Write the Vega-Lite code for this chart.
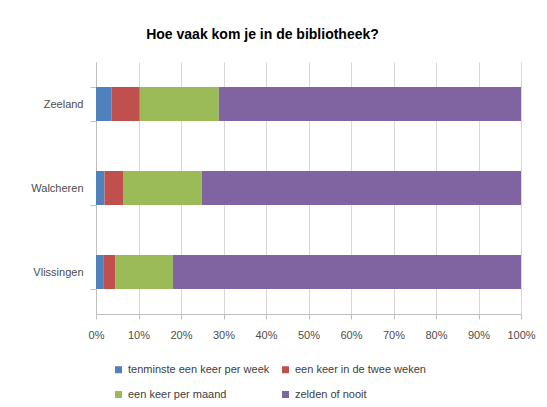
{
  "$schema": "https://vega.github.io/schema/vega-lite/v6.json",
  "autosize": {"type": "none"},
  "width": 425,
  "height": 252,
  "padding": {"left": 96, "top": 62, "right": 26, "bottom": 93},
  "background": "white",
  "title": {
    "text": "Hoe vaak kom je in de bibliotheek?",
    "font": "Liberation Sans",
    "fontSize": 14,
    "fontWeight": "bold",
    "color": "#000000",
    "anchor": "middle",
    "dx": -46,
    "offset": 14
  },
  "data": {
    "values": [
      {"regio": "Zeeland", "antwoord": "tenminste een keer per week", "volgorde": 1, "pct": 3.7},
      {"regio": "Zeeland", "antwoord": "een keer in de twee weken", "volgorde": 2, "pct": 6.6},
      {"regio": "Zeeland", "antwoord": "een keer per maand", "volgorde": 3, "pct": 18.6},
      {"regio": "Zeeland", "antwoord": "zelden of nooit", "volgorde": 4, "pct": 71.1},
      {"regio": "Walcheren", "antwoord": "tenminste een keer per week", "volgorde": 1, "pct": 2.0},
      {"regio": "Walcheren", "antwoord": "een keer in de twee weken", "volgorde": 2, "pct": 4.5},
      {"regio": "Walcheren", "antwoord": "een keer per maand", "volgorde": 3, "pct": 18.4},
      {"regio": "Walcheren", "antwoord": "zelden of nooit", "volgorde": 4, "pct": 75.1},
      {"regio": "Vlissingen", "antwoord": "tenminste een keer per week", "volgorde": 1, "pct": 1.7},
      {"regio": "Vlissingen", "antwoord": "een keer in de twee weken", "volgorde": 2, "pct": 2.8},
      {"regio": "Vlissingen", "antwoord": "een keer per maand", "volgorde": 3, "pct": 13.6},
      {"regio": "Vlissingen", "antwoord": "zelden of nooit", "volgorde": 4, "pct": 81.9}
    ]
  },
  "mark": {"type": "bar"},
  "encoding": {
    "y": {
      "field": "regio",
      "type": "nominal",
      "sort": ["Zeeland", "Walcheren", "Vlissingen"],
      "scale": {"paddingInner": 0.595, "paddingOuter": 0.2975},
      "axis": {
        "title": null,
        "domainColor": "#bfbfbf",
        "tickColor": "#bfbfbf",
        "tickSize": 6,
        "tickBand": "extent",
        "labelPadding": 7,
        "labelFont": "Liberation Sans",
        "labelFontSize": 11,
        "labelColor": "#4d4d4d",
        "grid": false
      }
    },
    "x": {
      "field": "pct",
      "type": "quantitative",
      "stack": "normalize",
      "scale": {"domain": [0, 1], "nice": false},
      "axis": {
        "title": null,
        "format": ".0%",
        "values": [0, 0.1, 0.2, 0.3, 0.4, 0.5, 0.6, 0.7, 0.8, 0.9, 1],
        "domainColor": "#bfbfbf",
        "tickColor": "#bfbfbf",
        "tickSize": 5,
        "labelPadding": 10,
        "labelFont": "Liberation Sans",
        "labelFontSize": 11,
        "labelColor": "#4d4d4d",
        "grid": true,
        "gridColor": "#d9d9d9",
        "labelFlush": false
      }
    },
    "color": {
      "field": "antwoord",
      "type": "nominal",
      "sort": ["tenminste een keer per week", "een keer in de twee weken", "een keer per maand", "zelden of nooit"],
      "scale": {
        "domain": ["tenminste een keer per week", "een keer in de twee weken", "een keer per maand", "zelden of nooit"],
        "range": ["#4f81bd", "#c0504d", "#9bbb59", "#8064a2"]
      },
      "legend": {
        "title": null,
        "orient": "none",
        "legendX": 17,
        "legendY": 302,
        "direction": "horizontal",
        "columns": 2,
        "symbolType": "square",
        "symbolSize": 49,
        "symbolStrokeWidth": 0,
        "labelFont": "Liberation Sans",
        "labelFontSize": 11,
        "labelColor": "#404040",
        "labelOffset": 4,
        "columnPadding": 10,
        "rowPadding": 13,
        "labelLimit": 300
      }
    },
    "order": {"field": "volgorde", "type": "quantitative"}
  },
  "config": {
    "view": {"stroke": null}
  }
}
